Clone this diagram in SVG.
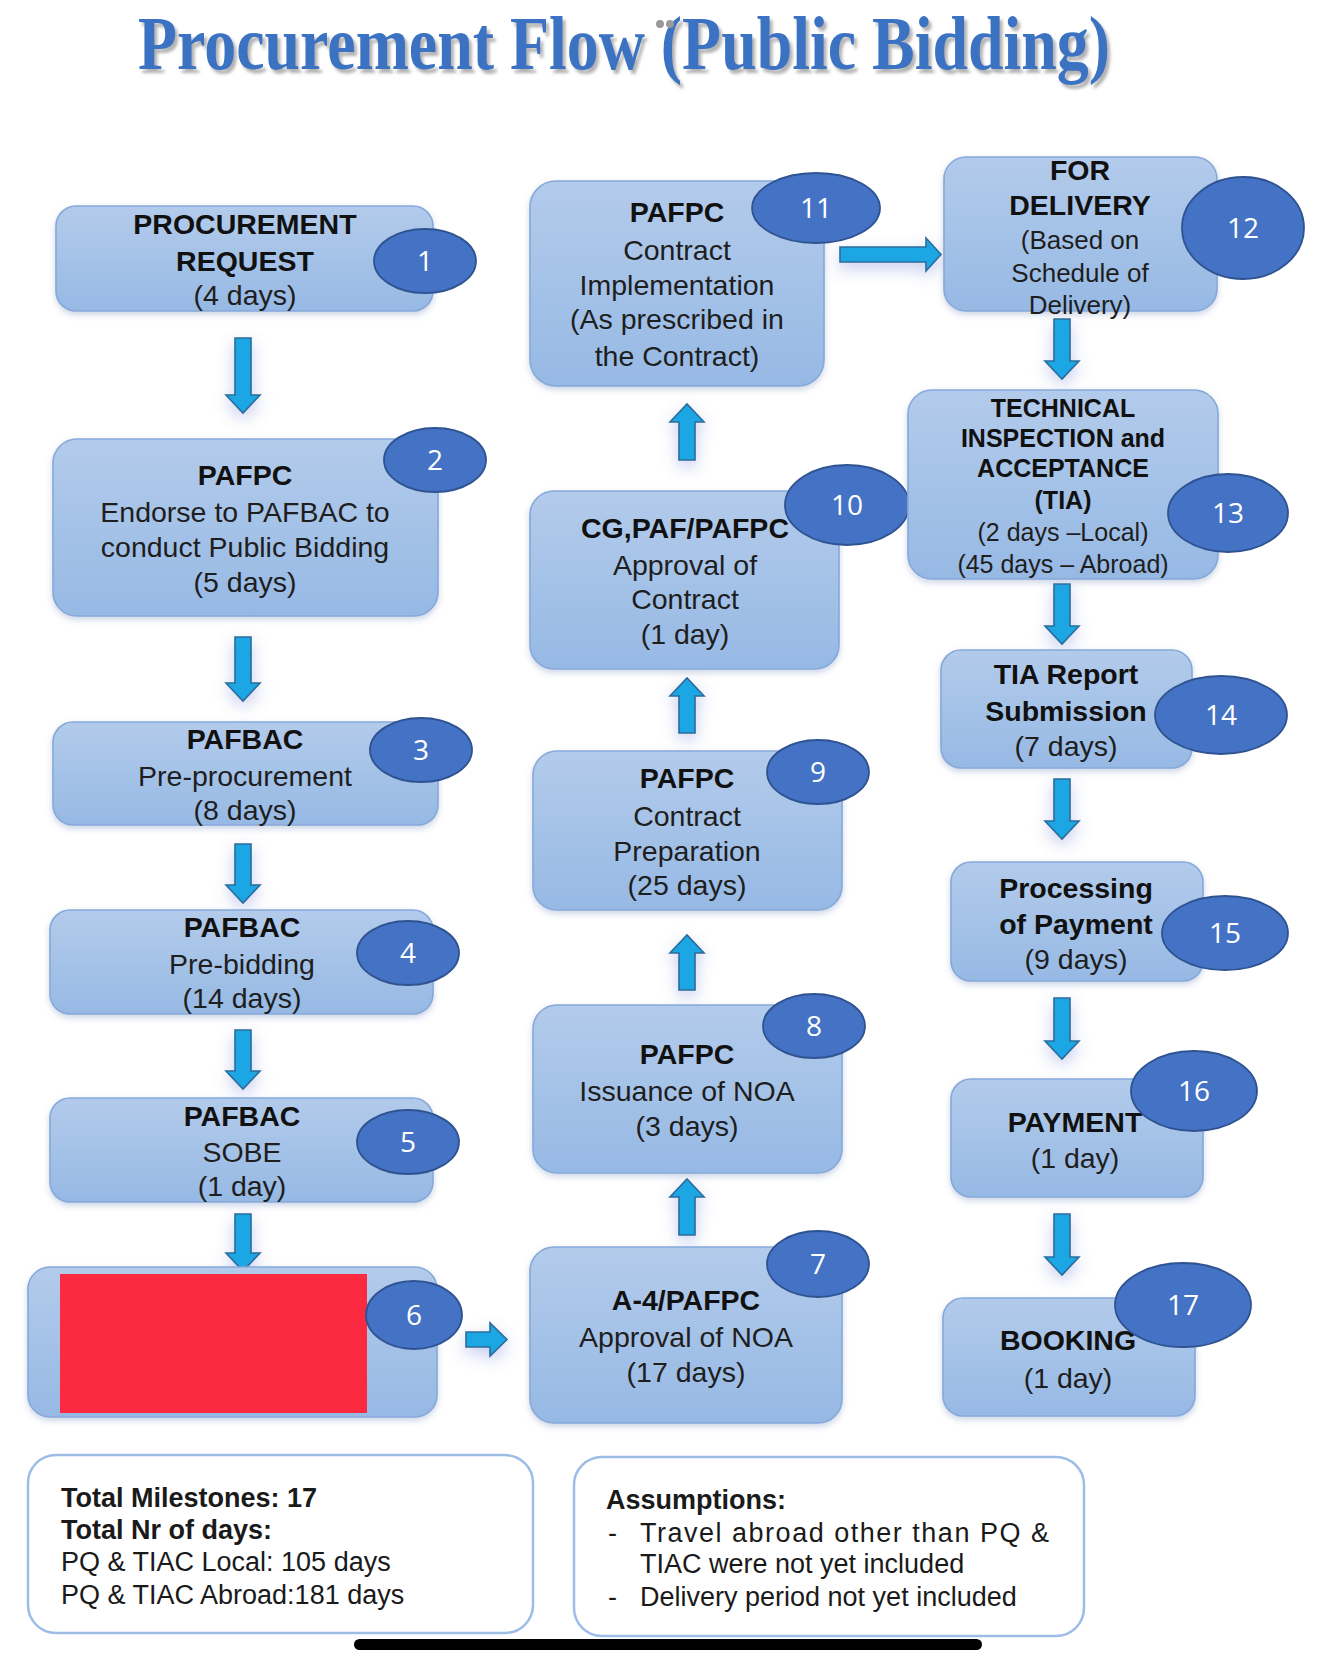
<svg xmlns="http://www.w3.org/2000/svg" width="1334" height="1665" viewBox="0 0 1334 1665">
<defs>
<linearGradient id="boxg" x1="0" y1="0" x2="0" y2="1">
<stop offset="0" stop-color="#b3cbeb"/>
<stop offset="1" stop-color="#96b9e4"/>
</linearGradient>
<filter id="sh" x="-20%" y="-20%" width="140%" height="150%">
<feDropShadow dx="0" dy="3" stdDeviation="3" flood-color="#6f86b8" flood-opacity="0.35"/>
</filter>
<filter id="glow" x="-100%" y="-60%" width="300%" height="220%">
<feDropShadow dx="0" dy="6" stdDeviation="8" flood-color="#5a6fd0" flood-opacity="0.35"/>
</filter>
<filter id="tsh" x="-5%" y="-30%" width="110%" height="170%">
<feDropShadow dx="3" dy="4" stdDeviation="1.6" flood-color="#808080" flood-opacity="0.6"/>
</filter>
<style>
.box{fill:url(#boxg);stroke:#86a9da;stroke-width:1.6;filter:url(#sh)}
.badge{fill:#4472c4;stroke:#2f5391;stroke-width:1.8}
.num{font-family:"Open Sans","Liberation Sans",sans-serif;font-size:28px;fill:#ffffff;text-anchor:middle}
.t{font-family:"Liberation Sans",Arial,sans-serif;font-size:28.5px;fill:#1e1e1e;text-anchor:middle}
.b{font-weight:bold;fill:#111}
.s{font-size:26px}
.xs{font-size:25px}
.arr{fill:#1ca6e4;stroke:#2a6c9c;stroke-width:1.6;filter:url(#glow)}
.note{fill:#ffffff;stroke:#9dbde6;stroke-width:2.5}
.nt{font-family:"Liberation Sans",Arial,sans-serif;font-size:27px;fill:#1a1a1a}
</style>
</defs>
<rect width="1334" height="1665" fill="#ffffff"/>

<g id="title">
<text x="138" y="69" font-family="Liberation Serif,Times New Roman,serif" font-weight="bold" font-size="76" textLength="972" lengthAdjust="spacingAndGlyphs" fill="#3b73c2" filter="url(#tsh)">Procurement Flow (Public Bidding)</text>
<circle cx="660" cy="24" r="4" fill="#9a9a9a"/>
<circle cx="670" cy="24" r="4" fill="#9a9a9a"/>
</g>

<g id="connectors">
<path class="arr" d="M235,338H251V395H260L243,413L226,395H235Z"/>
<path class="arr" d="M235,637H251V683H260L243,701L226,683H235Z"/>
<path class="arr" d="M235,844H251V885H260L243,903L226,885H235Z"/>
<path class="arr" d="M235,1030H251V1071H260L243,1089L226,1071H235Z"/>
<path class="arr" d="M235,1214H251V1253H260L243,1271L226,1253H235Z"/>
<path class="arr" d="M466,1332H490V1323L507,1339.5L490,1356V1347H466Z"/>
<path class="arr" d="M679,1235H695V1197H704L687,1179L670,1197H679Z"/>
<path class="arr" d="M679,990H695V953H704L687,935L670,953H679Z"/>
<path class="arr" d="M679,733H695V696H704L687,678L670,696H679Z"/>
<path class="arr" d="M679,460H695V422H704L687,404L670,422H679Z"/>
<path class="arr" d="M840,247H926V238L941,254.5L926,271V262H840Z"/>
<path class="arr" d="M1054,319H1070V361H1079L1062,379L1045,361H1054Z"/>
<path class="arr" d="M1054,584H1070V626H1079L1062,644L1045,626H1054Z"/>
<path class="arr" d="M1054,779H1070V821H1079L1062,839L1045,821H1054Z"/>
<path class="arr" d="M1054,998H1070V1041H1079L1062,1059L1045,1041H1054Z"/>
<path class="arr" d="M1054,1214H1070V1257H1079L1062,1275L1045,1257H1054Z"/>
</g>

<g id="node1">
<rect class="box" x="56" y="206" width="377" height="105" rx="20"/>
<text class="t b" x="245" y="234">PROCUREMENT</text>
<text class="t b" x="245" y="271">REQUEST</text>
<text class="t" x="245" y="305">(4 days)</text>
<ellipse class="badge" cx="425" cy="261" rx="51" ry="32"/>
<text class="num" x="425" y="271">1</text>
</g>

<g id="node2">
<rect class="box" x="53" y="439" width="385" height="177" rx="24"/>
<text class="t b" x="245" y="485">PAFPC</text>
<text class="t" x="245" y="522">Endorse to PAFBAC to</text>
<text class="t" x="245" y="557">conduct Public Bidding</text>
<text class="t" x="245" y="592">(5 days)</text>
<ellipse class="badge" cx="435" cy="460" rx="51" ry="32"/>
<text class="num" x="435" y="470">2</text>
</g>

<g id="node3">
<rect class="box" x="53" y="722" width="385" height="103" rx="20"/>
<text class="t b" x="245" y="749">PAFBAC</text>
<text class="t" x="245" y="786">Pre-procurement</text>
<text class="t" x="245" y="820">(8 days)</text>
<ellipse class="badge" cx="421" cy="750" rx="51" ry="32"/>
<text class="num" x="421" y="760">3</text>
</g>

<g id="node4">
<rect class="box" x="50" y="910" width="383" height="104" rx="20"/>
<text class="t b" x="242" y="937">PAFBAC</text>
<text class="t" x="242" y="974">Pre-bidding</text>
<text class="t" x="242" y="1008">(14 days)</text>
<ellipse class="badge" cx="408" cy="953" rx="51" ry="32"/>
<text class="num" x="408" y="963">4</text>
</g>

<g id="node5">
<rect class="box" x="50" y="1098" width="383" height="104" rx="20"/>
<text class="t b" x="242" y="1126">PAFBAC</text>
<text class="t" x="242" y="1162">SOBE</text>
<text class="t" x="242" y="1196">(1 day)</text>
<ellipse class="badge" cx="408" cy="1142" rx="51" ry="32"/>
<text class="num" x="408" y="1152">5</text>
</g>

<g id="node6">
<rect class="box" x="28" y="1267" width="409" height="150" rx="22"/>
<rect x="60" y="1274" width="307" height="139" fill="#fc2a41"/>
<ellipse class="badge" cx="414" cy="1315" rx="48" ry="34"/>
<text class="num" x="414" y="1325">6</text>
</g>

<g id="node7">
<rect class="box" x="530" y="1247" width="312" height="176" rx="24"/>
<text class="t b" x="686" y="1310">A-4/PAFPC</text>
<text class="t" x="686" y="1347">Approval of NOA</text>
<text class="t" x="686" y="1382">(17 days)</text>
<ellipse class="badge" cx="818" cy="1264" rx="51" ry="33"/>
<text class="num" x="818" y="1274">7</text>
</g>

<g id="node8">
<rect class="box" x="533" y="1005" width="309" height="168" rx="24"/>
<text class="t b" x="687" y="1064">PAFPC</text>
<text class="t" x="687" y="1101">Issuance of NOA</text>
<text class="t" x="687" y="1136">(3 days)</text>
<ellipse class="badge" cx="814" cy="1026" rx="51" ry="32"/>
<text class="num" x="814" y="1036">8</text>
</g>

<g id="node9">
<rect class="box" x="533" y="751" width="309" height="159" rx="24"/>
<text class="t b" x="687" y="788">PAFPC</text>
<text class="t" x="687" y="826">Contract</text>
<text class="t" x="687" y="861">Preparation</text>
<text class="t" x="687" y="895">(25 days)</text>
<ellipse class="badge" cx="818" cy="772" rx="51" ry="32"/>
<text class="num" x="818" y="782">9</text>
</g>

<g id="node10">
<rect class="box" x="530" y="491" width="309" height="178" rx="24"/>
<text class="t b" x="685" y="538">CG,PAF/PAFPC</text>
<text class="t" x="685" y="575">Approval of</text>
<text class="t" x="685" y="609">Contract</text>
<text class="t" x="685" y="644">(1 day)</text>
<ellipse class="badge" cx="847" cy="505" rx="62" ry="40"/>
<text class="num" x="847" y="515">10</text>
</g>

<g id="node11">
<rect class="box" x="530" y="181" width="294" height="205" rx="26"/>
<text class="t b" x="677" y="222">PAFPC</text>
<text class="t" x="677" y="260">Contract</text>
<text class="t" x="677" y="295">Implementation</text>
<text class="t" x="677" y="329">(As prescribed in</text>
<text class="t" x="677" y="366">the Contract)</text>
<ellipse class="badge" cx="816" cy="208" rx="64" ry="35"/>
<text class="num" x="816" y="218">11</text>
</g>

<g id="node12">
<rect class="box" x="944" y="157" width="273" height="154" rx="22"/>
<text class="t b" x="1080" y="180">FOR</text>
<text class="t b" x="1080" y="215">DELIVERY</text>
<text class="t s" x="1080" y="249">(Based on</text>
<text class="t s" x="1080" y="282">Schedule of</text>
<text class="t s" x="1080" y="314">Delivery)</text>
<ellipse class="badge" cx="1243" cy="228" rx="61" ry="51"/>
<text class="num" x="1243" y="238">12</text>
</g>

<g id="node13">
<rect class="box" x="908" y="390" width="310" height="189" rx="24"/>
<text class="t b xs" x="1063" y="417">TECHNICAL</text>
<text class="t b xs" x="1063" y="447">INSPECTION and</text>
<text class="t b xs" x="1063" y="477">ACCEPTANCE</text>
<text class="t b xs" x="1063" y="509">(TIA)</text>
<text class="t xs" x="1063" y="541">(2 days –Local)</text>
<text class="t xs" x="1063" y="573">(45 days – Abroad)</text>
<ellipse class="badge" cx="1228" cy="513" rx="60" ry="39"/>
<text class="num" x="1228" y="523">13</text>
</g>

<g id="node14">
<rect class="box" x="941" y="650" width="251" height="118" rx="20"/>
<text class="t b" x="1066" y="684">TIA Report</text>
<text class="t b" x="1066" y="721">Submission</text>
<text class="t" x="1066" y="756">(7 days)</text>
<ellipse class="badge" cx="1221" cy="715" rx="66" ry="39"/>
<text class="num" x="1221" y="725">14</text>
</g>

<g id="node15">
<rect class="box" x="951" y="862" width="252" height="119" rx="20"/>
<text class="t b" x="1076" y="898">Processing</text>
<text class="t b" x="1076" y="934">of Payment</text>
<text class="t" x="1076" y="969">(9 days)</text>
<ellipse class="badge" cx="1225" cy="933" rx="63" ry="37"/>
<text class="num" x="1225" y="943">15</text>
</g>

<g id="node16">
<rect class="box" x="951" y="1079" width="252" height="118" rx="20"/>
<text class="t b" x="1075" y="1132">PAYMENT</text>
<text class="t" x="1075" y="1168">(1 day)</text>
<ellipse class="badge" cx="1194" cy="1091" rx="63" ry="40"/>
<text class="num" x="1194" y="1101">16</text>
</g>

<g id="node17">
<rect class="box" x="943" y="1298" width="252" height="118" rx="20"/>
<text class="t b" x="1068" y="1350">BOOKING</text>
<text class="t" x="1068" y="1388">(1 day)</text>
<ellipse class="badge" cx="1183" cy="1305" rx="68" ry="42"/>
<text class="num" x="1183" y="1315">17</text>
</g>

<g id="totals">
<rect class="note" x="28" y="1455" width="505" height="178" rx="28"/>
<text class="nt" x="61" y="1507" font-weight="bold" fill="#111">Total Milestones: 17</text>
<text class="nt" x="61" y="1539" font-weight="bold" fill="#111">Total Nr of days:</text>
<text class="nt" x="61" y="1571">PQ &amp; TIAC Local: 105 days</text>
<text class="nt" x="61" y="1604">PQ &amp; TIAC Abroad:181 days</text>
</g>

<g id="assumptions">
<rect class="note" x="574" y="1457" width="510" height="179" rx="28"/>
<text class="nt" x="606" y="1509" font-weight="bold" fill="#111">Assumptions:</text>
<text class="nt" x="608" y="1542">-</text>
<text class="nt" x="640" y="1542" textLength="409" lengthAdjust="spacing">Travel abroad other than PQ &amp;</text>
<text class="nt" x="640" y="1573">TIAC were not yet included</text>
<text class="nt" x="608" y="1606">-</text>
<text class="nt" x="640" y="1606">Delivery period not yet included</text>
</g>

<rect x="354" y="1639" width="628" height="11" rx="5.5" fill="#000000"/>
</svg>
